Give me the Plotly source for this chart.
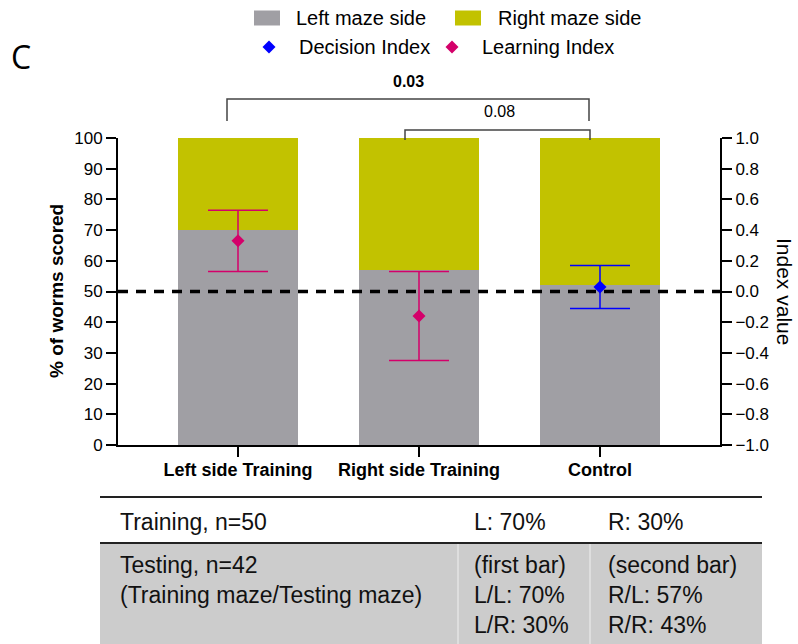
import plotly.graph_objects as go

# ---- data ----
categories = ["Left side Training", "Right side Training", "Control"]
left_side_pct = [70, 57, 52]
right_side_pct = [30, 43, 48]

learning_x = [0, 1]
learning_index = [0.33, -0.16]
learning_err = [0.20, 0.29]

decision_x = [2]
decision_index = [0.03]
decision_err = [0.14]

pvalue_labels = ["0.03", "0.08"]

left_ticks = list(range(0, 101, 10))
right_ticks = [-1.0, -0.8, -0.6, -0.4, -0.2, 0.0, 0.2, 0.4, 0.6, 0.8, 1.0]

table_row1 = ["Training, n=50", "L: 70%", "R: 30%"]
table_row2 = ["Testing, n=42<br>(Training maze/Testing maze)",
              "(first bar)<br>L/L: 70%<br>L/R: 30%",
              "(second bar)<br>R/L: 57%<br>R/R: 43%"]

# ---- styling ----
GRAY = "#a09fa4"
YELLOW = "#c2c200"
MAGENTA = "#d4006a"
BLUE = "#0000ff"
FONT = "Liberation Sans, Arial, sans-serif"

W, H = 798, 644
ML, MR, MT, MB = 118, 78, 138, 199
PW, PH = W - ML - MR, H - MT - MB


def px(x):
    return (x - ML) / PW


def py(y):
    return (H - MB - y) / PH


XR = [-0.663, 2.663]

fig = go.Figure()

fig.add_trace(go.Bar(x=[0, 1, 2], y=left_side_pct, marker_color=GRAY, width=0.663,
                     marker_line_width=0, name="Left maze side", showlegend=False))
fig.add_trace(go.Bar(x=[0, 1, 2], y=right_side_pct, marker_color=YELLOW, width=0.663,
                     marker_line_width=0, name="Right maze side", showlegend=False))

# zero line of the index axis
fig.add_trace(go.Scatter(x=XR, y=[0, 0], yaxis="y2", mode="lines",
                         line=dict(color="black", width=3.5, dash="10px,8px"),
                         hoverinfo="skip", showlegend=False))

fig.add_trace(go.Scatter(x=learning_x, y=learning_index, yaxis="y2", mode="markers",
                         marker=dict(symbol="diamond", size=10, color=MAGENTA),
                         error_y=dict(type="data", array=learning_err, color=MAGENTA,
                                      thickness=1.5, width=30),
                         name="Learning Index", showlegend=False))
fig.add_trace(go.Scatter(x=decision_x, y=decision_index, yaxis="y2", mode="markers",
                         marker=dict(symbol="diamond", size=10, color=BLUE),
                         error_y=dict(type="data", array=decision_err, color=BLUE,
                                      thickness=1.5, width=30),
                         name="Decision Index", showlegend=False))

shapes = []
annotations = []

# legend
legend_items = [
    ("rect", GRAY, 254, 18, "Left maze side", 294),
    ("rect", YELLOW, 455, 18, "Right maze side", 496),
    ("diamond", BLUE, 269, 47, "Decision Index", 297),
    ("diamond", MAGENTA, 452, 47, "Learning Index", 480),
]
for kind, col, sx, sy, label, tx in legend_items:
    if kind == "rect":
        shapes.append(dict(type="rect", xref="paper", yref="paper",
                           x0=px(sx), x1=px(sx + 26), y0=py(sy + 7.5), y1=py(sy - 7.5),
                           fillcolor=col, line_width=0))
    else:
        r = 6.5
        path = "M {} {} L {} {} L {} {} L {} {} Z".format(
            px(sx - r), py(sy), px(sx), py(sy - r), px(sx + r), py(sy), px(sx), py(sy + r))
        shapes.append(dict(type="path", xref="paper", yref="paper", path=path,
                           fillcolor=col, line_width=0))
    annotations.append(dict(x=px(tx), y=py(sy), xref="paper", yref="paper", text=label,
                            showarrow=False, xanchor="left", yanchor="middle",
                            font=dict(family=FONT, size=20, color="black")))

# significance brackets
brackets = [
    (227, 589, 99, 121, 408, 82, True),
    (405, 590, 130, 140, 499, 112, False),
]
for (x0, x1, yh, yb, tx, ty, bold), lab in zip(brackets, pvalue_labels):
    path = "M {} {} L {} {} L {} {} L {} {}".format(
        px(x0), py(yb), px(x0), py(yh), px(x1), py(yh), px(x1), py(yb))
    shapes.append(dict(type="path", xref="paper", yref="paper", path=path,
                       line=dict(color="#444444", width=1.5)))
    annotations.append(dict(x=px(tx), y=py(ty), xref="paper", yref="paper",
                            text="<b>%s</b>" % lab if bold else lab, showarrow=False,
                            xanchor="center", yanchor="middle",
                            font=dict(family=FONT, size=16, color="black")))

# panel letter
annotations.append(dict(x=px(9), y=py(56), xref="paper", yref="paper", text="C",
                        showarrow=False, xanchor="left", yanchor="middle",
                        font=dict(family="Open Sans, sans-serif", size=32, color="black")))

# axis titles
annotations.append(dict(x=px(56), y=py(291), xref="paper", yref="paper",
                        text="<b>% of worms scored</b>", textangle=-90, showarrow=False,
                        xanchor="center", yanchor="middle",
                        font=dict(family=FONT, size=19, color="black")))
annotations.append(dict(x=px(785), y=py(291), xref="paper", yref="paper",
                        text="Index value", textangle=90, showarrow=False,
                        xanchor="center", yanchor="middle",
                        font=dict(family=FONT, size=21, color="black")))

# table below the chart
shapes.append(dict(type="rect", xref="paper", yref="paper", x0=px(100), x1=px(762),
                   y0=py(644), y1=py(544), fillcolor="#cccccc", line_width=0, layer="below"))
for xv in (458, 590):
    shapes.append(dict(type="line", xref="paper", yref="paper", x0=px(xv), x1=px(xv),
                       y0=py(644), y1=py(544), line=dict(color="#e4e4e4", width=1.5)))
for yv in (497, 543):
    shapes.append(dict(type="line", xref="paper", yref="paper", x0=px(100), x1=px(762),
                       y0=py(yv), y1=py(yv), line=dict(color="#222222", width=2)))

col_x = [118, 472, 606]
for cx, txt in zip(col_x, table_row1):
    annotations.append(dict(x=px(cx), y=py(522), xref="paper", yref="paper", text=txt,
                            showarrow=False, xanchor="left", yanchor="middle", align="left",
                            font=dict(family=FONT, size=23, color="#111111")))
for cx, txt in zip(col_x, table_row2):
    annotations.append(dict(x=px(cx), y=py(550), xref="paper", yref="paper", text=txt,
                            showarrow=False, xanchor="left", yanchor="top", align="left",
                            font=dict(family=FONT, size=23, color="#111111")))

fig.update_layout(
    width=W, height=H,
    margin=dict(l=ML, r=MR, t=MT, b=MB, pad=0),
    paper_bgcolor="white", plot_bgcolor="white",
    barmode="stack", bargap=0,
    showlegend=False,
    shapes=shapes, annotations=annotations,
    font=dict(family=FONT, color="black"),
    xaxis=dict(range=XR, tickmode="array", tickvals=[0, 1, 2],
               ticktext=["<b>%s</b>" % c for c in categories],
               showline=True, linecolor="black", linewidth=2, mirror=False,
               ticks="outside", ticklen=10, tickwidth=2, tickcolor="black",
               ticklabelstandoff=-3,
               showgrid=False, zeroline=False,
               tickfont=dict(family=FONT, size=18, color="black")),
    yaxis=dict(range=[0, 100], tickmode="array", tickvals=left_ticks,
               showline=True, linecolor="black", linewidth=2,
               ticks="outside", ticklen=10, tickwidth=2, tickcolor="black",
               showgrid=False, zeroline=False,
               tickprefix="<b>", ticksuffix="</b>",
               tickfont=dict(family=FONT, size=17, color="black")),
    yaxis2=dict(range=[-1, 1], overlaying="y", side="right", tickmode="array",
                tickvals=right_ticks, tickformat=".1f",
                showline=True, linecolor="black", linewidth=2,
                ticks="outside", ticklen=10, tickwidth=2, tickcolor="black",
                showgrid=False, zeroline=False,
                tickprefix="<b>", ticksuffix="</b>",
                tickfont=dict(family=FONT, size=17, color="black")),
)

fig.write_html("out.html")
